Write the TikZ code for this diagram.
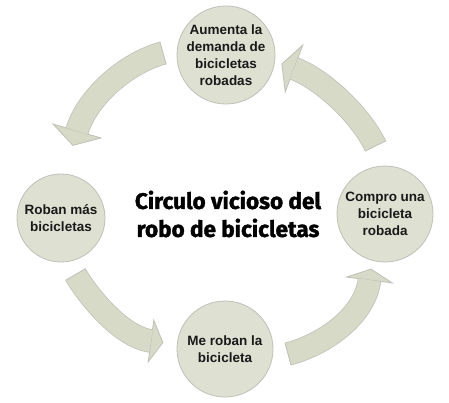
\documentclass[tikz,border=0pt]{standalone}
\usepackage{fontspec}
\setmainfont{Liberation Sans}
\newfontfamily\titlefont[BoldFeatures={FakeBold=1.6}]{Fira Sans}
\usetikzlibrary{calc}
\definecolor{circfill}{RGB}{222,224,210}
\definecolor{arrfill}{RGB}{214,218,199}
\definecolor{edgegray}{RGB}{190,193,184}
\definecolor{txt}{RGB}{25,25,25}
\tikzset{
  circ/.style={circle, fill=circfill, draw=edgegray, line width=0.8pt, inner sep=0pt},
  lbl/.style={align=center, text=txt, font=\fontsize{13.5}{17}\selectfont\bfseries, inner sep=0pt},
  title/.style={align=center, text=black, font=\titlefont\fontsize{22.5}{28}\selectfont\bfseries, inner sep=0pt},
  shaftout/.style={draw=edgegray, line width=23.5pt, line cap=butt},
  shaftin/.style={draw=arrfill, line width=22pt, line cap=butt},
  headpoly/.style={fill=arrfill, draw=edgegray, line width=0.8pt, line join=miter},
  tailedge/.style={draw=edgegray, line width=0.8pt}
}
% #1 start, #2 ctrl1, #3 ctrl2, #4 end, #5 head length, #6 head half width, #7 shaft half width
\newcommand{\bentarrow}[7]{%
  \path[headpoly] ($(#4)!#6!90:(#3)$) -- ($(#4)!-#5!(#3)$) -- ($(#4)!#6!-90:(#3)$) -- cycle;
  \path[shaftout] (#1) .. controls (#2) and (#3) .. (#4);
  \path[shaftin] (#1) .. controls (#2) and (#3) .. (#4);
  \path[tailedge] ($(#1)!#7!90:(#2)$) -- ($(#1)!#7!-90:(#2)$);
}
\begin{document}
\begin{tikzpicture}[x=1pt,y=-1pt]
\useasboundingbox[fill=white] (0,0) rectangle (449,403);

% circles
\node[circ, minimum size=98pt] (top) at (226,55) {};
\node[circ, minimum size=88pt] (left) at (61,218) {};
\node[circ, minimum size=96pt] (right) at (385,214) {};
\node[circ, minimum size=96pt] (bottom) at (225,349) {};

% arrow end points
\coordinate (a1s) at (163,53);  \coordinate (a1c) at (123,64);  \coordinate (a1d) at (86,100);  \coordinate (a1e) at (77,131);
\coordinate (a2s) at (75.5,274.5); \coordinate (a2c) at (88,296); \coordinate (a2d) at (121,337); \coordinate (a2e) at (151,341);
\coordinate (a3s) at (288,354); \coordinate (a3c) at (326,344); \coordinate (a3d) at (365,315); \coordinate (a3e) at (369.5,280);
\coordinate (a4s) at (375.5,146); \coordinate (a4c) at (360,114); \coordinate (a4d) at (322,79); \coordinate (a4e) at (294,68.5);

\bentarrow{a1s}{a1c}{a1d}{a1e}{15pt}{25pt}{11.5pt}
\bentarrow{a2s}{a2c}{a2d}{a2e}{12pt}{21pt}{11.5pt}
\bentarrow{a3s}{a3c}{a3d}{a3e}{11pt}{23pt}{11.5pt}
\bentarrow{a4s}{a4c}{a4d}{a4e}{13pt}{25pt}{11.5pt}

% labels
\node[lbl] (ttop) at (top) {Aumenta la\\demanda de\\bicicletas\\robadas};
\node[lbl] (tleft) at (left) {Roban más\\bicicletas};
\node[lbl] (tright) at (right) {Compro una\\bicicleta\\robada};
\node[lbl] (tbottom) at (bottom) {Me roban la\\bicicleta};

\node[title] (center) at (228,214) {Circulo vicioso del\\robo de bicicletas};
\end{tikzpicture}
\end{document}
